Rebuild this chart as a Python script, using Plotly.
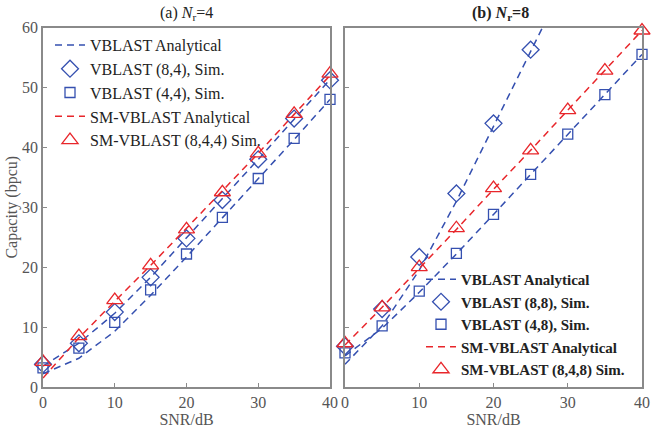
import plotly.graph_objects as go

snr = [0, 5, 10, 15, 20, 25, 30, 35, 40]

# Panel (a) Nr=4
a_vblast_ana_84 = [3.5, 7.3, 12.3, 18.3, 24.9, 31.4, 38.0, 44.7, 51.3]
a_vblast_ana_44 = [2.2, 4.8, 9.3, 15.3, 21.7, 28.2, 34.8, 41.3, 48.0]
a_sm_ana = [1.5, 8.2, 14.3, 20.3, 26.5, 32.7, 39.0, 45.5, 52.0]
a_vblast_84_sim = [3.8, 7.3, 12.5, 18.3, 24.8, 31.2, 38.0, 44.8, 51.2]
a_vblast_44_sim = [3.2, 6.5, 10.8, 16.2, 22.2, 28.3, 34.8, 41.5, 48.0]
a_sm_sim = [4.2, 8.5, 14.5, 20.3, 26.3, 32.5, 39.0, 45.6, 52.3]

# Panel (b) Nr=8
b_snr_88 = [0, 5, 10, 15, 20, 25, 27]
b_vblast_ana_88 = [3.8, 10.2, 19.5, 31.0, 43.5, 56.0, 61.0]
b_vblast_ana_48 = [5.2, 9.8, 15.8, 22.2, 28.8, 35.5, 42.2, 48.8, 55.5]
b_sm_ana = [7.0, 13.3, 19.8, 26.3, 33.0, 39.5, 46.2, 52.8, 59.5]
b_snr_88_sim = [0, 5, 10, 15, 20, 25]
b_vblast_88_sim = [6.8, 13.0, 21.7, 32.3, 44.0, 56.3]
b_vblast_48_sim = [5.7, 10.2, 16.0, 22.3, 28.8, 35.5, 42.2, 48.8, 55.5]
b_sm_sim = [7.3, 13.3, 20.0, 26.5, 33.2, 39.5, 46.2, 52.8, 59.5]

x_ticks = [0, 10, 20, 30, 40]
y_ticks = [0, 10, 20, 30, 40, 50, 60]

BLUE = "#3550b0"
RED = "#e8262b"
FONT = "Liberation Serif"
DASH = "7px,5px"

fig = go.Figure()

def line(x, y, color, name, xa, ya, leg, show=True):
    fig.add_trace(go.Scatter(x=x, y=y, mode="lines", name=name, xaxis=xa, yaxis=ya,
                             line=dict(color=color, width=1.5, dash=DASH),
                             legend=leg, showlegend=show, cliponaxis=True))

def mark(x, y, color, symbol, size, name, xa, ya, leg):
    fig.add_trace(go.Scatter(x=x, y=y, mode="markers", name=name, xaxis=xa, yaxis=ya,
                             marker=dict(symbol=symbol, size=size, color=color,
                                         line=dict(color=color, width=1.3)),
                             legend=leg, cliponaxis=False))

# Panel a
line(snr, a_vblast_ana_84, BLUE, "VBLAST Analytical", "x", "y", "legend")
mark(snr, a_vblast_84_sim, BLUE, "diamond-open", 13, "VBLAST (8,4), Sim.", "x", "y", "legend")
mark(snr, a_vblast_44_sim, BLUE, "square-open", 10, "VBLAST (4,4), Sim.", "x", "y", "legend")
line(snr, a_vblast_ana_44, BLUE, "VBLAST Analytical", "x", "y", "legend", show=False)
line(snr, a_sm_ana, RED, "SM-VBLAST Analytical", "x", "y", "legend")
mark(snr, a_sm_sim, RED, "triangle-up-open", 14, "SM-VBLAST (8,4,4) Sim.", "x", "y", "legend")

# Panel b
line(b_snr_88, b_vblast_ana_88, BLUE, "VBLAST Analytical", "x2", "y2", "legend2")
mark(b_snr_88_sim, b_vblast_88_sim, BLUE, "diamond-open", 13, "VBLAST (8,8), Sim.", "x2", "y2", "legend2")
mark(snr, b_vblast_48_sim, BLUE, "square-open", 10, "VBLAST (4,8), Sim.", "x2", "y2", "legend2")
line(snr, b_vblast_ana_48, BLUE, "VBLAST Analytical", "x2", "y2", "legend2", show=False)
line(snr, b_sm_ana, RED, "SM-VBLAST Analytical", "x2", "y2", "legend2")
mark(snr, b_sm_sim, RED, "triangle-up-open", 14, "SM-VBLAST (8,4,8) Sim.", "x2", "y2", "legend2")

W, H = 655, 428
yd = [1 - 387 / H, 1 - 27.5 / H]

axis_common = dict(showgrid=False, zeroline=False, showline=True, mirror=True, automargin=False,
                   linecolor="#8a8a8a", linewidth=1.5, ticks="inside", ticklen=4,
                   tickcolor="#8a8a8a", tickfont=dict(family=FONT, size=16, color="#555"))
title_font = dict(family=FONT, size=16, color="#555")

fig.update_layout(
    width=W, height=H, margin=dict(l=0, r=0, t=0, b=0, autoexpand=False),
    paper_bgcolor="white", plot_bgcolor="white",
    font=dict(family=FONT, color="#222"),
    xaxis=dict(domain=[43 / W, 330 / W], range=[0, 40], tickvals=x_ticks,
               title=dict(text="SNR/dB", font=title_font, standoff=0),
               anchor="y", **axis_common),
    yaxis=dict(domain=yd, range=[0, 60], tickvals=y_ticks,
               title=dict(text="Capacity (bpcu)", font=title_font, standoff=0),
               anchor="x", **axis_common),
    xaxis2=dict(domain=[345 / W, 642 / W], range=[0, 40], tickvals=x_ticks,
                title=dict(text="SNR/dB", font=title_font, standoff=0),
                anchor="y2", **axis_common),
    yaxis2=dict(domain=yd, range=[0, 60], tickvals=y_ticks, showticklabels=False,
                anchor="x2", **axis_common),
    legend=dict(x=50 / W, y=1 - 28 / H, xanchor="left", yanchor="top",
                bgcolor="rgba(0,0,0,0)", font=dict(family=FONT, size=16, color="#222"),
                tracegroupgap=0, itemwidth=30),
    legend2=dict(x=630 / W, y=1 - 263 / H, xanchor="right", yanchor="top",
                 bgcolor="rgba(0,0,0,0)", font=dict(family=FONT, size=15, color="#222", weight="bold"),
                 tracegroupgap=0, itemwidth=30),
    annotations=[
        dict(text="(a) <i>N</i><sub>r</sub>=4", x=186 / W, y=1 - 14 / H, xref="paper", yref="paper",
             xanchor="center", yanchor="middle",
             showarrow=False, font=dict(family=FONT, size=16, color="#222")),
        dict(text="<b>(b) <i>N</i><sub>r</sub>=8</b>", x=500 / W, y=1 - 14 / H, xref="paper", yref="paper",
             xanchor="center", yanchor="middle",
             showarrow=False, font=dict(family=FONT, size=16, color="#222")),
    ],
)

fig.write_html("out.html")
